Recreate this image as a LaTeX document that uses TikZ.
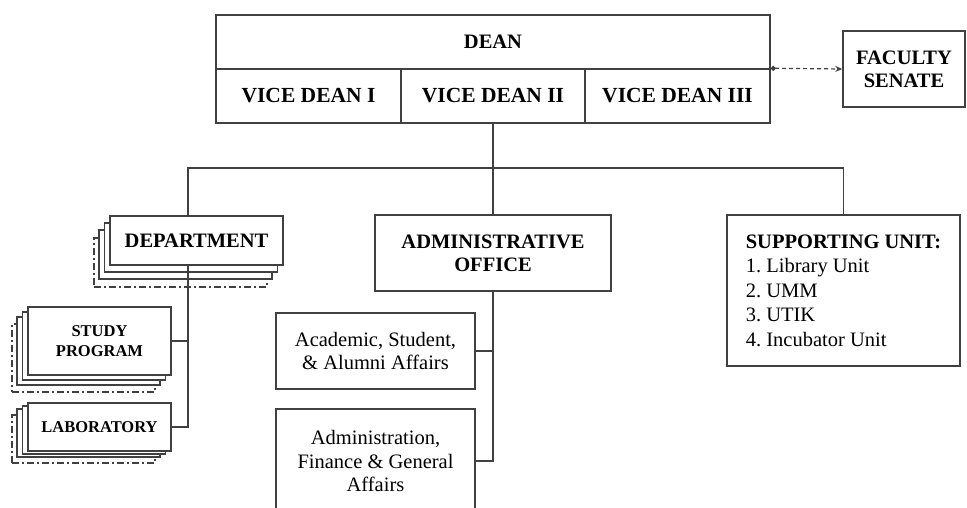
\documentclass[tikz,border=0pt]{standalone}
\usepackage{fontspec}
\setmainfont{Liberation Serif}
\usetikzlibrary{arrows.meta,shadows}

\tikzset{
  box/.style={draw=black!75, line width=1.5pt, fill=white, inner sep=0pt, align=center},
  head/.style={box, font=\fontsize{20.5}{23}\selectfont\bfseries},
  minihead/.style={box, font=\fontsize{16.5}{20}\selectfont\bfseries},
  body/.style={box, font=\fontsize{20.5}{23.5}\selectfont},
  % stacked copies behind a box: y steps of copy 1, copy 2, dash-dot copy
  stackbox/.style n args={3}{
    general shadow={shadow xshift=-16pt, shadow yshift=-#3, draw=black!75, line width=1.5pt,
      fill=white, dash pattern=on 7pt off 3pt on 2pt off 3pt},
    general shadow={shadow xshift=-11pt, shadow yshift=-#2, draw=black!75, line width=1.5pt, fill=white},
    general shadow={shadow xshift=-5.5pt, shadow yshift=-#1, draw=black!75, line width=1.5pt, fill=white}},
  link/.style={draw=black!75, line width=1.5pt}
}

\begin{document}
\begin{tikzpicture}[x=1pt,y=-1pt]
\useasboundingbox (0,0) rectangle (967,508);
\clip (0,0) rectangle (967,508);

% top level
\node[head, minimum width=554pt, minimum height=54pt] (dean) at (493,42) {DEAN};
\node[head, font=\fontsize{21.5}{23}\selectfont\bfseries, minimum width=185pt, minimum height=54pt] (vd1) at (308.5,96) {VICE DEAN I};
\node[head, font=\fontsize{21.5}{23}\selectfont\bfseries, minimum width=184pt, minimum height=54pt] (vd2) at (493,96) {VICE DEAN II};
\node[head, font=\fontsize{21.5}{23}\selectfont\bfseries, minimum width=185pt, minimum height=54pt] (vd3) at (677.5,96) {VICE DEAN III};
\node[head, minimum width=122pt, minimum height=76pt] (senate) at (904,69) {FACULTY\\SENATE};

% second level
\node[head, stackbox={7pt}{14pt}{22pt}, minimum width=173pt, minimum height=49pt] (dept) at (196.5,240.5) {DEPARTMENT};
\node[head, minimum width=236pt, minimum height=76pt] (admin) at (493,253) {ADMINISTRATIVE\\OFFICE};
\node[body, align=left, minimum width=233pt, minimum height=151pt,
  font=\fontsize{20.5}{24.5}\selectfont] (support) at (843.5,290.5)
  {\textbf{SUPPORTING UNIT:}\\1.\ Library Unit\\2.\ UMM\\3.\ UTIK\\4.\ Incubator Unit};

% under department
\node[minihead, stackbox={5pt}{10pt}{17pt}, minimum width=143pt, minimum height=68pt] (study) at (99.5,341) {STUDY\\PROGRAM};
\node[minihead, stackbox={3pt}{6pt}{12pt}, minimum width=143pt, minimum height=48pt] (lab) at (99.5,427) {LABORATORY};

% under administrative office
\node[body, minimum width=199pt, minimum height=76pt] (academic) at (375.5,351) {Academic, Student,\\\& Alumni Affairs};
\node[body, minimum width=199pt, minimum height=104pt] (adminfin) at (375.5,461) {Administration,\\Finance \& General\\Affairs};

% connectors
\draw[link, line width=1.2pt, dash pattern=on 4pt off 3pt,
  {Circle[length=5pt]}-{Stealth[length=7pt,width=6pt]}] (vd3.north east) -- (senate.west);
\draw[link] ([xshift=-8.5pt]dept.north) -- ++(0,-47) -| (support.north);
\draw[link] (vd2.south) -- (admin.north);
\draw[link] ([xshift=-8.5pt]dept.south) |- (study.east);
\draw[link] ([xshift=-8.5pt]dept.south) |- (lab.east);
\draw[link] (admin.south) |- (academic.east);
\draw[link] (admin.south) |- (adminfin.east);
\end{tikzpicture}
\end{document}
